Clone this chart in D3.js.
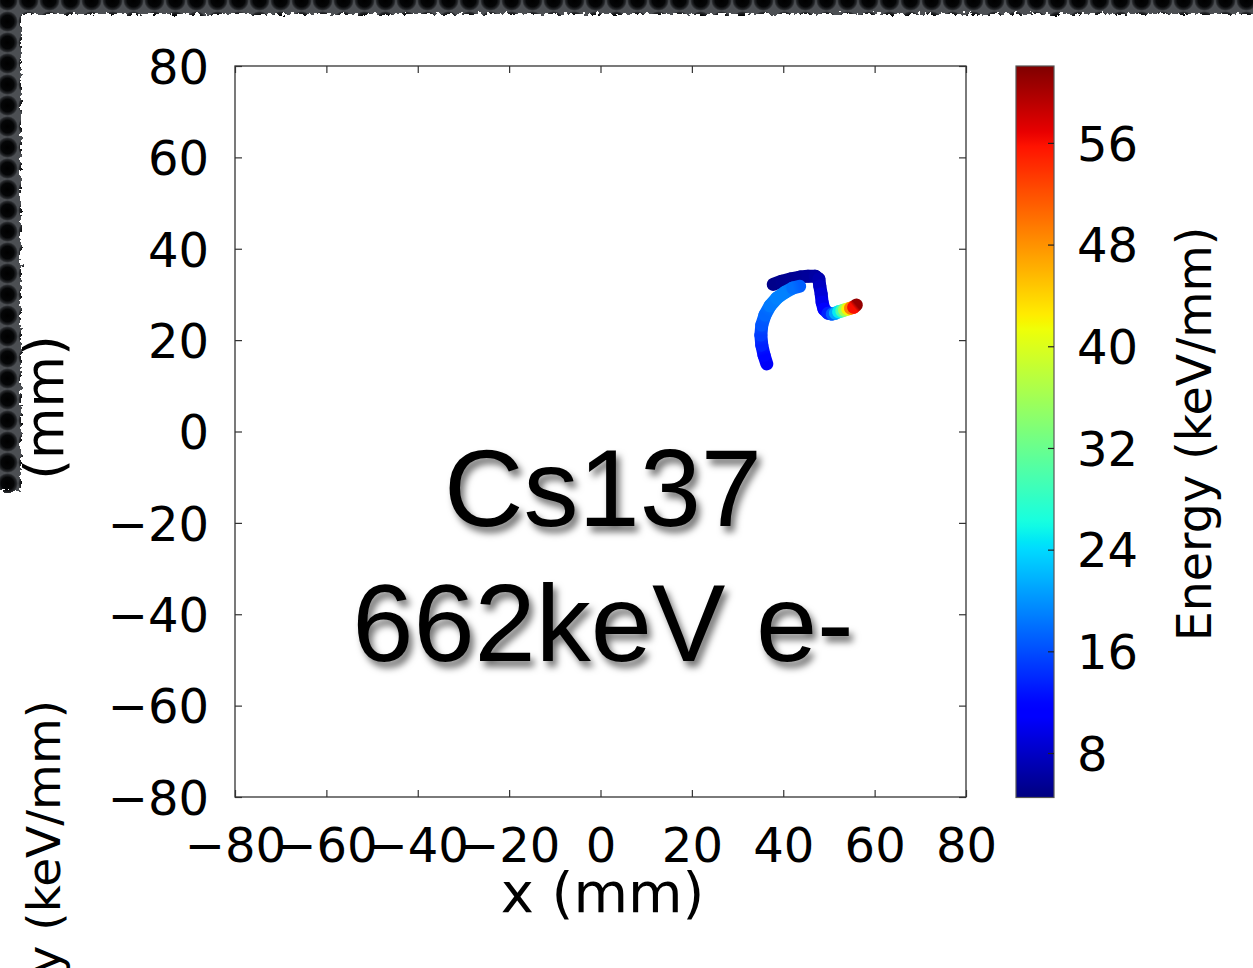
<!DOCTYPE html>
<html>
<head>
<meta charset="utf-8">
<script src="https://cdn.jsdelivr.net/npm/d3@7"></script>
<style>
  html, body { margin: 0; padding: 0; background: #fff; overflow: hidden; }
  svg { display: block; }
</style>
</head>
<body>
<svg id="chart" width="1253" height="968"></svg>
<script>
// ---- Axis settings ----
const xDomain = [-80, 80];
const yDomain = [-80, 80];
const xTicks = [-80, -60, -40, -20, 0, 20, 40, 60, 80];
const yTicks = [-80, -60, -40, -20, 0, 20, 40, 60, 80];
const energyDomain = [4.5, 62.05];
const energyTicks = [8, 16, 24, 32, 40, 48, 56];

// ---- Electron track (x, y in mm; deposited energy in keV/mm) ----
// Hooked part that ends in the Bragg peak
const hookX = [37.8, 39.7, 41.7, 43.7, 45.4, 47.0, 47.8, 48.0, 48.3, 48.5, 48.9, 49.8, 50.7, 51.4, 52.1, 52.8, 53.4, 54.1, 54.7, 55.4, 56.0];
const hookY = [32.2, 32.9, 33.4, 33.8, 34.0, 34.0, 33.4, 31.8, 30.1, 28.3, 26.8, 25.9, 25.7, 25.9, 26.2, 26.4, 26.6, 26.8, 27.0, 27.2, 27.7];
const hookE = [5.0, 5.2, 5.4, 5.6, 5.8, 6.2, 6.8, 7.8, 8.8, 9.8, 11.0, 13.5, 17, 21, 25, 30, 36, 42, 49, 56, 61];
// Curved arc part
const arcX = [36.4, 35.8, 35.3, 35.1, 35.3, 36.0, 37.1, 38.6, 40.4, 42.1, 43.6];
const arcY = [14.8, 16.7, 18.9, 21.1, 23.3, 25.5, 27.5, 29.2, 30.5, 31.4, 31.8];
const arcE = [10.5, 12, 13.5, 15, 16.5, 17.5, 18.5, 19, 19, 18, 17];

// ---- Texts ----
const titleLines = ["Cs137", "662keV e-"];
const xLabel = "x (mm)";
const yLabel = "y (mm)";
const energyLabel = "Energy (keV/mm)";

// ---- Layout ----
const plot = { left: 235, right: 966, top: 66, bottom: 797 };
const cbar = { left: 1016, right: 1054, top: 66, bottom: 797.5 };
const tickFont = "'DejaVu Sans', 'Liberation Sans', sans-serif";

const svg = d3.select("#chart");
const defs = svg.append("defs");

// jet colormap built from piecewise-linear channel scales
const jetR = d3.scaleLinear().domain([0, 0.35, 0.66, 0.89, 1]).range([0, 0, 1, 1, 0.5]).clamp(true);
const jetG = d3.scaleLinear().domain([0, 0.125, 0.375, 0.64, 0.91, 1]).range([0, 0, 1, 1, 0, 0]).clamp(true);
const jetB = d3.scaleLinear().domain([0, 0.11, 0.34, 0.65, 1]).range([0.5, 1, 1, 0, 0]).clamp(true);
const jet = t => d3.rgb(jetR(t) * 255, jetG(t) * 255, jetB(t) * 255).formatHex();
const eNorm = d3.scaleLinear().domain(energyDomain).range([0, 1]).clamp(true);
const energyColor = e => jet(eNorm(e));

// ---- Defs: perforated backdrop, torn paper edge, text shadow, colorbar gradient ----
const holeGrad = defs.append("radialGradient").attr("id", "holeGrad");
holeGrad.append("stop").attr("offset", "0%").attr("stop-color", "#000");
holeGrad.append("stop").attr("offset", "60%").attr("stop-color", "#050607");
holeGrad.append("stop").attr("offset", "85%").attr("stop-color", "#25272a");
holeGrad.append("stop").attr("offset", "100%").attr("stop-color", "#4c4f53");

const pat = defs.append("pattern").attr("id", "holes")
  .attr("patternUnits", "userSpaceOnUse")
  .attr("x", -3).attr("y", -10).attr("width", 21).attr("height", 21);
pat.append("rect").attr("width", 21).attr("height", 21).attr("fill", "#4c4f53");
pat.append("circle").attr("cx", 10.5).attr("cy", 10.5).attr("r", 10.5).attr("fill", "url(#holeGrad)");

const torn = defs.append("filter").attr("id", "torn")
  .attr("filterUnits", "userSpaceOnUse")
  .attr("x", -40).attr("y", -40).attr("width", 1360).attr("height", 1080);
torn.append("feTurbulence").attr("type", "fractalNoise")
  .attr("baseFrequency", "0.22").attr("numOctaves", 2).attr("seed", 7).attr("result", "noise");
torn.append("feDisplacementMap").attr("in", "SourceGraphic").attr("in2", "noise")
  .attr("scale", 9).attr("xChannelSelector", "R").attr("yChannelSelector", "G");

const shadow = defs.append("filter").attr("id", "shadow")
  .attr("x", "-10%").attr("y", "-20%").attr("width", "125%").attr("height", "150%");
shadow.append("feDropShadow").attr("dx", 4).attr("dy", 6).attr("stdDeviation", 3.5)
  .attr("flood-color", "#000").attr("flood-opacity", 0.55);

const cbGrad = defs.append("linearGradient").attr("id", "cbGrad")
  .attr("x1", 0).attr("y1", 1).attr("x2", 0).attr("y2", 0);
d3.range(0, 1.0001, 0.01).forEach(t => {
  cbGrad.append("stop").attr("offset", t).attr("stop-color", jet(t));
});

// ---- Backdrop and slide sheets ----
svg.append("rect").attr("width", 1253).attr("height", 968).attr("fill", "url(#holes)");
svg.append("rect").attr("x", 21).attr("y", 14).attr("width", 1320).attr("height", 1020)
  .attr("fill", "#fff").attr("filter", "url(#torn)");

// ---- Scales ----
const x = d3.scaleLinear().domain(xDomain).range([plot.left, plot.right]);
const y = d3.scaleLinear().domain(yDomain).range([plot.bottom, plot.top]);
const eScale = d3.scaleLinear().domain(energyDomain).range([cbar.bottom, cbar.top]);

// ---- Axes (ticks pointing inward on all four sides) ----
function styleAxis(g) {
  g.select(".domain").remove();
  g.selectAll(".tick line").attr("stroke", "#333").attr("stroke-width", 1.2);
  g.selectAll("text").attr("fill", "#000").style("font-family", tickFont).style("font-size", "48px");
}

svg.append("g").attr("transform", `translate(0,${plot.bottom})`)
  .call(d3.axisBottom(x).tickValues(xTicks).tickSizeInner(-7).tickSizeOuter(0))
  .call(styleAxis)
  .call(g => g.selectAll("text").attr("y", 65).attr("dy", null));

svg.append("g").attr("transform", `translate(${plot.left},0)`)
  .call(d3.axisLeft(y).tickValues(yTicks).tickSizeInner(-7).tickSizeOuter(0))
  .call(styleAxis)
  .call(g => g.selectAll("text").attr("x", -26).attr("dy", "0.36em"));

svg.append("g").attr("transform", `translate(0,${plot.top})`)
  .call(d3.axisTop(x).tickValues(xTicks).tickSizeInner(-7).tickSizeOuter(0).tickFormat(""))
  .call(styleAxis);

svg.append("g").attr("transform", `translate(${plot.right},0)`)
  .call(d3.axisRight(y).tickValues(yTicks).tickSizeInner(-7).tickSizeOuter(0).tickFormat(""))
  .call(styleAxis);

svg.append("rect")
  .attr("x", plot.left).attr("y", plot.top)
  .attr("width", plot.right - plot.left).attr("height", plot.bottom - plot.top)
  .attr("fill", "none").attr("stroke", "#333").attr("stroke-width", 1.3);

// Axis titles
svg.append("text").attr("x", (plot.left + plot.right) / 2 + 2).attr("y", 912)
  .attr("text-anchor", "middle").style("font-family", tickFont).style("font-size", "56px")
  .attr("fill", "#000").text(xLabel);

svg.append("text")
  .attr("transform", `translate(63,${(plot.top + plot.bottom) / 2}) rotate(-90)`)
  .attr("text-anchor", "middle").style("font-family", tickFont).style("font-size", "53px")
  .attr("fill", "#000").text(yLabel);

// ---- Track: each step is a short tube shaded from one energy to the next ----
function drawTrack(name, xs, ys, es) {
  const g = svg.append("g").attr("class", name);
  for (let i = 0; i < xs.length - 1; i++) {
    const x1 = x(xs[i]), y1 = y(ys[i]), x2 = x(xs[i + 1]), y2 = y(ys[i + 1]);
    const id = `${name}-seg-${i}`;
    const lg = defs.append("linearGradient").attr("id", id)
      .attr("gradientUnits", "userSpaceOnUse")
      .attr("x1", x1).attr("y1", y1).attr("x2", x2).attr("y2", y2);
    lg.append("stop").attr("offset", 0).attr("stop-color", energyColor(es[i]));
    lg.append("stop").attr("offset", 1).attr("stop-color", energyColor(es[i + 1]));
    g.append("line")
      .attr("x1", x1).attr("y1", y1).attr("x2", x2).attr("y2", y2)
      .attr("stroke", `url(#${id})`).attr("stroke-width", 13).attr("stroke-linecap", "round");
  }
}
drawTrack("hook", hookX, hookY, hookE);
drawTrack("arc", arcX, arcY, arcE);

// ---- Colorbar ----
svg.append("rect")
  .attr("x", cbar.left).attr("y", cbar.top)
  .attr("width", cbar.right - cbar.left).attr("height", cbar.bottom - cbar.top)
  .attr("fill", "url(#cbGrad)").attr("stroke", "#555").attr("stroke-width", 1.2);

svg.append("g").attr("transform", `translate(${cbar.right},0)`)
  .call(d3.axisRight(eScale).tickValues(energyTicks).tickSizeInner(-6).tickSizeOuter(0))
  .call(styleAxis)
  .call(g => g.selectAll(".tick line").attr("stroke", "#222"))
  .call(g => g.selectAll("text").attr("x", 23).attr("dy", "0.36em"));

svg.append("text")
  .attr("transform", `translate(1211,434) rotate(-90)`)
  .attr("text-anchor", "middle").style("font-family", tickFont).style("font-size", "47.5px")
  .attr("fill", "#000").text(energyLabel);

// ---- Title overlay ----
const title = svg.append("g").attr("filter", "url(#shadow)");
title.selectAll("text").data(titleLines).join("text")
  .attr("x", 603).attr("y", (d, i) => [526, 661][i])
  .attr("text-anchor", "middle")
  .style("font-family", "'Liberation Sans', Helvetica, Arial, sans-serif")
  .style("font-size", "110px")
  .attr("fill", "#000")
  .text(d => d);

// ---- Neighbouring sheet at lower left ----
svg.append("rect").attr("x", -40).attr("y", 491).attr("width", 142).attr("height", 520)
  .attr("fill", "#fff").attr("filter", "url(#torn)");
svg.append("text")
  .attr("transform", `translate(60,700) rotate(-90)`)
  .attr("text-anchor", "end").style("font-family", tickFont).style("font-size", "47px")
  .attr("fill", "#000").text(energyLabel);
</script>
</body>
</html>
